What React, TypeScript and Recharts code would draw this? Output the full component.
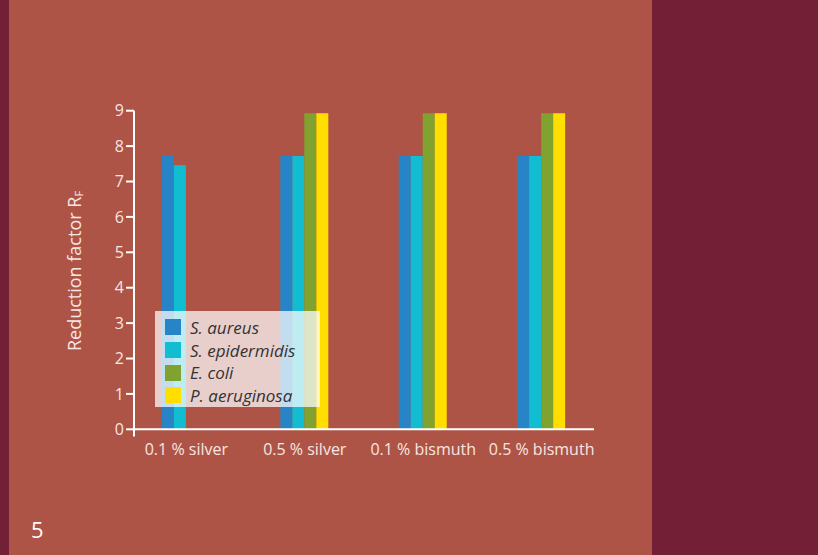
import React from "react"
import { Bar, BarChart, Legend, ReferenceLine, XAxis, YAxis } from "recharts"

const categories = ["0.1 % silver", "0.5 % silver", "0.1 % bismuth", "0.5 % bismuth"]
const aureus = [7.72, 7.72, 7.72, 7.72]
const epidermidis = [7.46, 7.72, 7.72, 7.72]
const ecoli = [null, 8.93, 8.93, 8.93]
const aeruginosa = [null, 8.93, 8.93, 8.93]
const yTicks = [0, 1, 2, 3, 4, 5, 6, 7, 8, 9]

const series = [
    { key: "aureus", name: "S. aureus", color: "#2785C7", values: aureus },
    { key: "epidermidis", name: "S. epidermidis", color: "#13BDD1", values: epidermidis },
    { key: "ecoli", name: "E. coli", color: "#80A22F", values: ecoli },
    { key: "aeruginosa", name: "P. aeruginosa", color: "#FFDE00", values: aeruginosa },
]

const data = categories.map((name, i) => {
    const row: Record<string, string | number | null> = { name }
    series.forEach((s) => {
        row[s.key] = s.values[i]
    })
    return row
})

const FONT = "'Open Sans', sans-serif"
const LABEL_COLOR = "#F6E6E2"

function LegendBox() {
    return (
        <div
            style={{
                width: 165,
                height: 96,
                background: "rgba(255,255,255,0.72)",
                boxSizing: "border-box",
                paddingTop: 5,
                paddingLeft: 10,
            }}
        >
            {series.map((s) => (
                <div key={s.key} style={{ display: "flex", alignItems: "center", height: 22.7 }}>
                    <div style={{ width: 16, height: 16, background: s.color, flexShrink: 0 }} />
                    <span
                        style={{
                            marginLeft: 9,
                            fontFamily: FONT,
                            fontStyle: "italic",
                            fontSize: 17,
                            color: "#333",
                            whiteSpace: "nowrap",
                            lineHeight: 1,
                        }}
                    >
                        {s.name}
                    </span>
                </div>
            ))}
        </div>
    )
}

function YLabel(props: any) {
    const { viewBox } = props
    const x = viewBox.x + 14
    const y = 271
    return (
        <text
            x={x}
            y={y}
            transform={`rotate(-90 ${x} ${y})`}
            textAnchor="middle"
            dominantBaseline="central"
            fill={LABEL_COLOR}
            style={{ fontFamily: FONT, fontSize: 18 }}
        >
            Reduction factor R
            <tspan fontSize={11} dy={4}>F</tspan>
        </text>
    )
}

export default function App() {
    return (
        <div
            style={{
                position: "absolute",
                left: 0,
                top: 0,
                width: 818,
                height: 555,
                background: "#AE5446",
                overflow: "hidden",
            }}
        >
            <div style={{ position: "absolute", left: 0, top: 0, width: 9, height: 555, background: "#731F35" }} />
            <div style={{ position: "absolute", left: 652, top: 0, width: 166, height: 555, background: "#731F35" }} />
            <div
                style={{
                    position: "absolute",
                    left: 31,
                    top: 514,
                    color: "#fff",
                    fontFamily: FONT,
                    fontSize: 22,
                }}
            >
                5
            </div>
            <div style={{ position: "absolute", left: 0, top: 0 }}>
                <BarChart
                    width={652}
                    height={480}
                    data={data}
                    margin={{ top: 110.7, right: 58, bottom: 13.6, left: 60 }}
                    barGap={0}
                    barCategoryGap={34.75}
                >
                    <XAxis
                        dataKey="name"
                        axisLine={false}
                        tickLine={false}
                        tickSize={0}
                        tickMargin={7}
                        height={30}
                        padding={{ left: -6.85, right: -6.85 }}
                        tick={{ fill: LABEL_COLOR, fontSize: 16, fontFamily: FONT }}
                        interval={0}
                    />
                    <YAxis
                        type="number"
                        domain={[-0.2, 9]}
                        ticks={yTicks}
                        width={74}
                        axisLine={{ stroke: "#fff", strokeWidth: 2 }}
                        tickLine={{ stroke: "#fff", strokeWidth: 2 }}
                        tickSize={8}
                        tick={{ fill: LABEL_COLOR, fontSize: 16, fontFamily: FONT }}
                        label={<YLabel />}
                    />
                    {series.map((s) => (
                        <Bar key={s.key} dataKey={s.key} name={s.name} fill={s.color} isAnimationActive={false} />
                    ))}
                    <ReferenceLine y={0} stroke="#fff" strokeWidth={2} />
                    <Legend
                        layout="vertical"
                        align="center"
                        verticalAlign="middle"
                        content={<LegendBox />}
                        wrapperStyle={{ position: "absolute", left: 155, top: 311, width: 165, height: 96 }}
                    />
                </BarChart>
            </div>
        </div>
    )
}
